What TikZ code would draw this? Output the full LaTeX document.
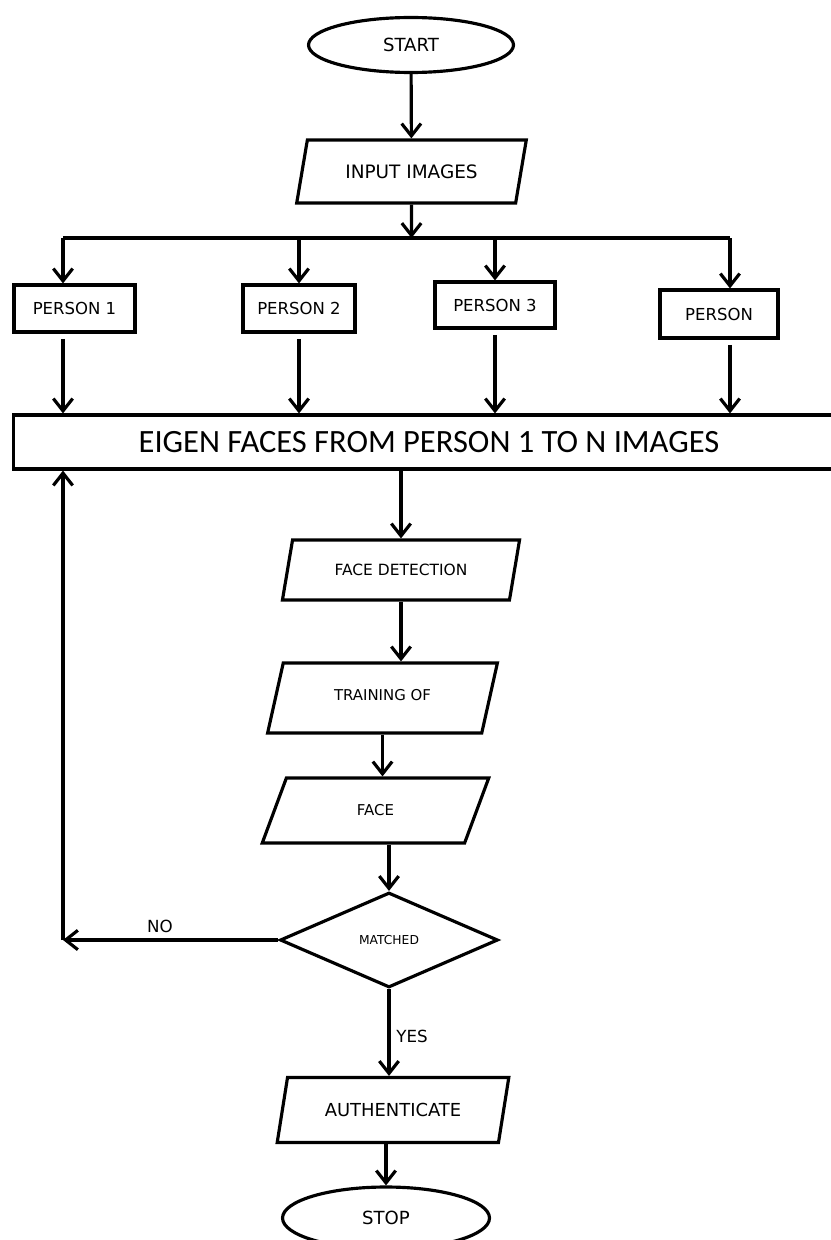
\documentclass[tikz,border=0pt]{standalone}
\usepackage{fontspec}
\setmainfont{DejaVu Sans}
\newfontfamily\eigenfont{Carlito}
\usetikzlibrary{shapes.geometric,arrows.meta,positioning}

\begin{document}
\begin{tikzpicture}[x=0.02cm,y=-0.02cm,
line width=1.8pt,
>={Straight Barb[length=7pt,width=11pt]},
terminal/.style={
% The shape:
ellipse,
draw=black,
font=\fontsize{10.3}{12}\selectfont
},
io/.style={
trapezium,trapezium left angle=74,trapezium right angle=106,
trapezium stretches=true,
draw=black,
font=\fontsize{8.5}{10}\selectfont
},
square/.style={
rectangle,
draw=black,
font=\fontsize{9.4}{11}\selectfont
},
decision/.style={
diamond,
draw=black,
font=\fontsize{7}{8}\selectfont
}
]
\useasboundingbox (0,0) rectangle (831,1240);
% Top part:
\node (start) at (411,45) [terminal, minimum width=4.1cm, minimum height=1.1cm]{START};
\node (input) at (411.5,171.5) [io, minimum width=4.62cm, minimum height=1.26cm, font=\fontsize{10.5}{12}\selectfont]{INPUT IMAGES};
\coordinate (c1) at (63,238);
\coordinate (c4) at (730,238);
\node (p1) at (74.5,308.5) [square, minimum width=2.42cm, minimum height=0.94cm]{PERSON 1};
\node (p2) at (299,308.5) [square, minimum width=2.24cm, minimum height=0.94cm]{PERSON 2};
\node (p3) at (495,305) [square, minimum width=2.4cm, minimum height=0.92cm]{PERSON 3};
\node (pn) at (719,314) [square, minimum width=2.36cm, minimum height=0.96cm]{PERSON};
\node (eigen) at (429,442) [rectangle, draw=black, minimum width=16.64cm, minimum height=1.08cm, font=\eigenfont\fontsize{18.5}{22}\selectfont]{EIGEN FACES FROM PERSON 1 TO N IMAGES};
% Checking part:
\node (detect) at (401,570) [io, minimum width=4.76cm, minimum height=1.2cm, font=\fontsize{8.8}{10}\selectfont]{FACE DETECTION};
\node (train) at (382.5,698) [io, minimum width=4.62cm, minimum height=1.4cm]{\raisebox{4pt}{TRAINING OF}};
\node (face) at (375.5,810.5) [io, minimum width=4.54cm, minimum height=1.3cm]{FACE};
\node (match) at (389,940) [decision, minimum width=4.36cm, minimum height=1.9cm]{MATCHED};
\coordinate (back) at (63,940);
\node (auth) at (393,1110) [io, minimum width=4.64cm, minimum height=1.3cm, font=\fontsize{10.2}{12}\selectfont]{AUTHENTICATE};
\node (stop) at (386,1218) [terminal, minimum width=4.14cm, minimum height=1.24cm]{STOP};
\draw[->] (start) -- (input);
\draw[->] (input) -- (input |- c1);
\draw (c1) -- (c4);
\draw[->] (c1) -- (c1 |- p1.north);
\draw[->] (p2.north |- c1) -- (p2.north);
\draw[->] (p3.north |- c1) -- (p3.north);
\draw[->] (c4) -- (c4 |- pn.north);
\draw[->,shorten <=3pt] (p1.south -| c1) -- (eigen.north -| c1);
\draw[->,shorten <=3pt] (p2.south) -- (p2.south |- eigen.north);
\draw[->,shorten <=3pt] (p3.south) -- (p3.south |- eigen.north);
\draw[->,shorten <=3pt] (pn.south -| c4) -- (eigen.north -| c4);
\draw[->] (detect.north |- eigen.south) -- (detect.north);
\draw[->] (detect.south) -- (detect.south |- train.north);
\draw[->] (train.south) -- (train.south |- face.north);
\draw[->] (match.north |- face.south) -- (match.north);
\draw[->] (match.west) -- node[above, pos=0.55, font=\fontsize{9.5}{11}\selectfont]{NO} (back);
\draw[->] (back) -- (back |- eigen.south);
\draw[->] (match.south) -- node[right, pos=0.55, font=\fontsize{9.5}{11}\selectfont]{YES} (match.south |- auth.north);
\draw[->] (stop.north |- auth.south) -- (stop.north);
\end{tikzpicture}
\end{document}
